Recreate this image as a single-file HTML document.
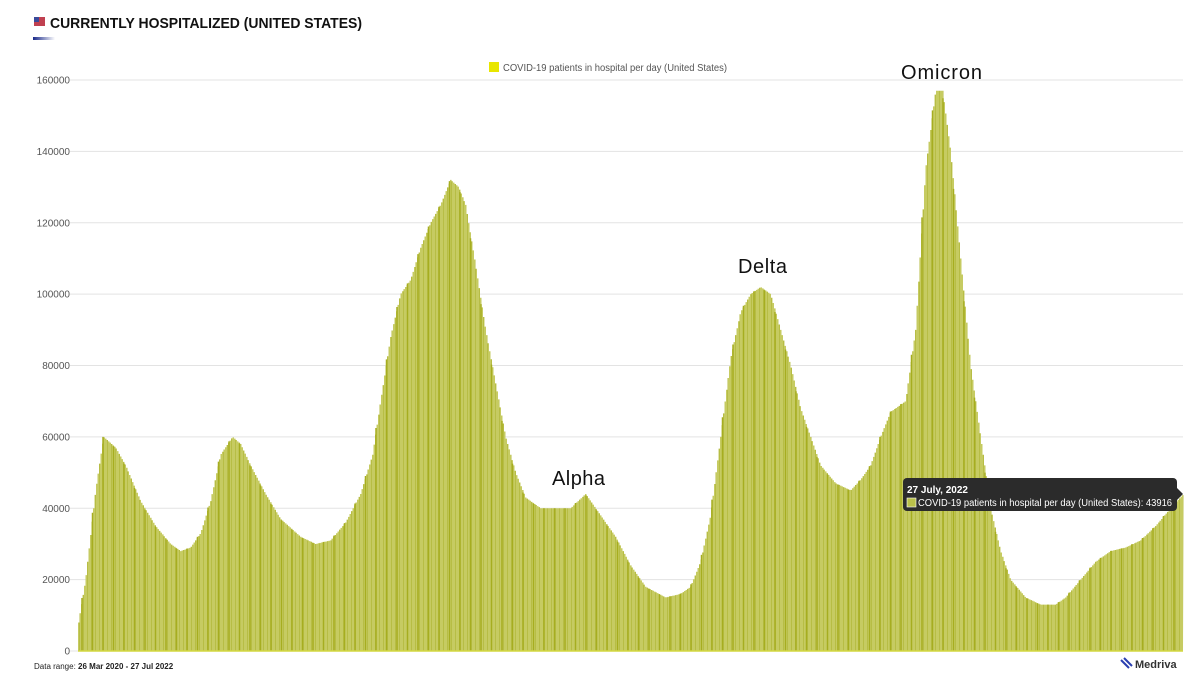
<!DOCTYPE html>
<html><head><meta charset="utf-8"><style>
body{margin:0;background:#fff;width:1200px;height:683px;overflow:hidden;font-family:"Liberation Sans",Arial,sans-serif}
</style></head><body>
<svg width="1200" height="683" xmlns="http://www.w3.org/2000/svg" font-family="Liberation Sans, Arial, sans-serif">
<defs>
<linearGradient id="ul" x1="0" x2="1"><stop offset="0" stop-color="#1a2a8a"/><stop offset="1" stop-color="#1a2a8a" stop-opacity="0"/></linearGradient>
<pattern id="stripes" width="4" height="10" patternUnits="userSpaceOnUse"><rect width="4" height="10" fill="#c6cb62"/><rect x="3" width="1" height="10" fill="#b7bd45"/></pattern>
</defs>
<rect x="34" y="17" width="11" height="9" fill="#c04050"/><rect x="34" y="17" width="5" height="5" fill="#3a4a9a"/>
<text x="50" y="28" font-size="15" font-weight="bold" fill="#111" textLength="312" lengthAdjust="spacingAndGlyphs">CURRENTLY HOSPITALIZED (UNITED STATES)</text>
<rect x="33" y="37" width="22" height="3" fill="url(#ul)"/>
<g id="grid" stroke="#e3e3e3" stroke-width="1"></g>
<g id="ylab" font-size="10" fill="#555" text-anchor="end"></g>
<rect x="489" y="62" width="10" height="10" fill="#e8e600"/>
<text x="503" y="71" font-size="10" fill="#555" textLength="224" lengthAdjust="spacingAndGlyphs">COVID-19 patients in hospital per day (United States)</text>
<polygon id="area" fill="url(#stripes)" points=""/>
<g id="dark" stroke="#a6ad20" stroke-width="1.5"></g>
<line x1="78" y1="651" x2="1183" y2="651" stroke="#d4d840" stroke-width="1.5"/>
<text x="901" y="79" font-size="20" fill="#111" textLength="81">Omicron</text>
<text x="738" y="273" font-size="20" fill="#111" textLength="49">Delta</text>
<text x="552" y="485" font-size="20" fill="#111" textLength="53">Alpha</text>
<rect x="903" y="478" width="274" height="33" rx="4" fill="#2b2b2b"/>
<polygon points="1177,488 1183,494 1177,500" fill="#2b2b2b"/>
<text x="907" y="493" font-size="10" font-weight="bold" fill="#fff">27 July, 2022</text>
<rect x="907" y="498" width="9" height="9" fill="#b9c04a" stroke="#fff" stroke-width="0.6"/>
<text x="918" y="506" font-size="10" fill="#fff" textLength="254" lengthAdjust="spacingAndGlyphs">COVID-19 patients in hospital per day (United States): 43916</text>
<text x="34" y="669" font-size="8" fill="#222">Data range:  <tspan font-weight="bold">26 Mar 2020  -  27 Jul 2022</tspan></text>
<g transform="translate(1121,658)" stroke="#2a3fb0" stroke-width="2"><line x1="0" y1="2" x2="8" y2="10"/><line x1="3" y1="0" x2="11" y2="8"/></g>
<text x="1135" y="668" font-size="11" font-weight="bold" fill="#333">Medriva</text>
</svg>
<script>
var Y=v=>651-v*3.5687;
var g=document.getElementById('grid'),yl=document.getElementById('ylab'),ns='http://www.w3.org/2000/svg';
for(var v=0;v<=160;v+=20){var l=document.createElementNS(ns,'line');l.setAttribute('x1',70);l.setAttribute('x2',1183);l.setAttribute('y1',Y(v));l.setAttribute('y2',Y(v));g.appendChild(l);
var t=document.createElementNS(ns,'text');t.setAttribute('x',70);t.setAttribute('y',Y(v)+3.5);t.textContent=v?v*1000:'0';yl.appendChild(t);}
var k=[[78,8],[85,20],[95,45],[103,60],[115,57],[125,52],[140,42],[155,35],[170,30],[180,28],[190,29],[200,33],[210,42],[220,55],[232,60],[240,58],[250,52],[265,44],[280,37],[300,32],[315,30],[330,31],[345,36],[360,44],[372,55],[380,70],[390,88],[400,100],[410,104],[420,113],[430,120],[440,125],[450,132],[458,130],[465,125],[475,108],[485,90],[495,75],[505,60],[515,50],[525,43],[540,40],[555,40],[570,40],[585,44],[600,38],[615,32],[630,24],[645,18],[665,15],[680,16],[690,18],[700,25],[710,38],[720,60],[730,82],[740,95],[750,100],[760,102],[770,100],[780,90],[790,80],[800,68],[810,60],[820,52],[835,47],[850,45],[860,48],[870,52],[880,60],[890,67],[905,70],[915,90],[925,135],[935,157],[942,157],[950,140],[960,110],[970,80],[980,60],[990,40],[1000,28],[1010,20],[1025,15],[1040,13],[1055,13],[1065,15],[1080,20],[1095,25],[1110,28],[1125,29],[1140,31],[1155,35],[1170,40],[1183,44]];
function val(x){for(var i=0;i<k.length-1;i++){if(x<=k[i+1][0]){var a=k[i],b=k[i+1];return a[1]+(b[1]-a[1])*(x-a[0])/(b[0]-a[0]);}}return 44;}
var pts=['78,651'];for(var x=78;x<=1183;x+=1.5){var v=val(x);pts.push(x+','+Y(v));pts.push((x+1.5)+','+Y(v));}
pts.push('1183,651');document.getElementById('area').setAttribute('points',pts.join(' '));
var d=document.getElementById('dark');for(var x=82;x<1183;x+=10.5){var l=document.createElementNS(ns,'line');l.setAttribute('x1',x);l.setAttribute('x2',x);l.setAttribute('y1',Y(val(x)));l.setAttribute('y2',651);d.appendChild(l);}
</script>
</body></html>
